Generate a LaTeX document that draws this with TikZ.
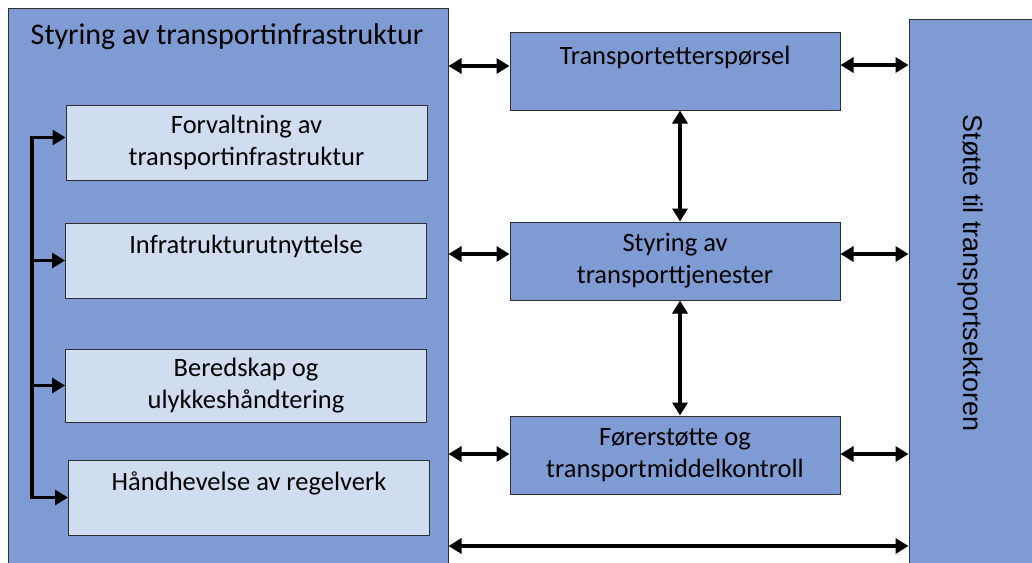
\documentclass[tikz,border=0pt]{standalone}
\usepackage{fontspec}
\setmainfont{Carlito}
\newfontfamily\arialfont{Liberation Sans}
\usetikzlibrary{arrows.meta,positioning,calc}
\definecolor{blaa}{HTML}{7F9BD4}
\definecolor{blaalys}{HTML}{D0DCF0}
\definecolor{kant}{HTML}{2E2E2E}

\begin{document}
\begin{tikzpicture}[
  x=1pt,y=-1pt,
  storboks/.style={draw=kant,fill=blaa,line width=1pt,inner sep=0pt},
  underboks/.style={draw=kant,fill=blaalys,line width=1pt,minimum width=361pt,
                    minimum height=75pt,align=center,font=\fontsize{26.5}{32}\selectfont},
  midtboks/.style={draw=kant,fill=blaa,line width=1pt,minimum width=330pt,
                   minimum height=78pt,align=center,font=\fontsize{26.5}{32}\selectfont},
  pil/.style={-{Triangle[length=13pt,width=15pt]},line width=3.6pt},
  dobbelpil/.style={{Triangle[length=13pt,width=15pt]}-{Triangle[length=13pt,width=15pt]},line width=3.6pt}
]
  \clip (0,0) rectangle (1032,562);
  \node[storboks,minimum width=440pt,minimum height=570pt] (infra) at (228,293) {};
  \node[font=\fontsize{30}{36}\selectfont] (infratittel) at (227,37) {Styring av transportinfrastruktur};
  \node[storboks,minimum width=131pt,minimum height=560pt] (stotte) at (974.5,299) {};
  \node[rotate=-90,font=\arialfont\fontsize{27}{32}\selectfont] (stottetekst) at (970,273) {Støtte til transportsektoren};

  \node[underboks] (forvaltning) at (246.5,142.5) {Forvaltning av\\transportinfrastruktur};
  \node[underboks] (utnyttelse) at (246,260.5) {Infratrukturutnyttelse\\\mbox{}};
  \node[underboks,minimum height=73pt] (beredskap) at (246,385.5) {Beredskap og\\ulykkeshåndtering};
  \node[underboks] (handhevelse) at (249,497.5) {Håndhevelse av regelverk\\\mbox{}};

  \node[midtboks] (ettersporsel) at (675,71) {Transportetterspørsel\\\mbox{}};
  \node[midtboks] (tjenester) at (675,261) {Styring av\\transporttjenester};
  \node[midtboks] (forer) at (675,455) {Førerstøtte og\\transportmiddelkontroll};

  \coordinate (skinne) at (32,0);
  \coordinate (bunn) at (448.5,546);

  \draw[pil,line cap=rect] (handhevelse.west -| skinne) |- ([yshift=5pt]forvaltning.west);
  \draw[pil] (utnyttelse.west -| skinne) -- (utnyttelse.west);
  \draw[pil] (beredskap.west -| skinne) -- (beredskap.west);
  \draw[pil,line cap=rect] (handhevelse.west -| skinne) -- (handhevelse.west);

  \draw[dobbelpil] ([yshift=5pt]ettersporsel.west -| infra.east) -- ([yshift=5pt]ettersporsel.west);
  \draw[dobbelpil] ([yshift=7pt]tjenester.west -| infra.east) -- ([yshift=7pt]tjenester.west);
  \draw[dobbelpil] ([yshift=1pt]forer.west -| infra.east) -- ([yshift=1pt]forer.west);
  \draw[dobbelpil] ([yshift=6pt]ettersporsel.east) -- ([yshift=6pt]ettersporsel.east -| stotte.west);
  \draw[dobbelpil] ([yshift=7pt]tjenester.east) -- ([yshift=7pt]tjenester.east -| stotte.west);
  \draw[dobbelpil] ([yshift=1pt]forer.east) -- ([yshift=1pt]forer.east -| stotte.west);
  \draw[dobbelpil] ([xshift=5pt]ettersporsel.south) -- ([xshift=5pt]tjenester.north);
  \draw[dobbelpil] ([xshift=5pt]tjenester.south) -- ([xshift=5pt]forer.north);
  \draw[dobbelpil] (bunn) -- (bunn -| stotte.west);
\end{tikzpicture}
\end{document}
